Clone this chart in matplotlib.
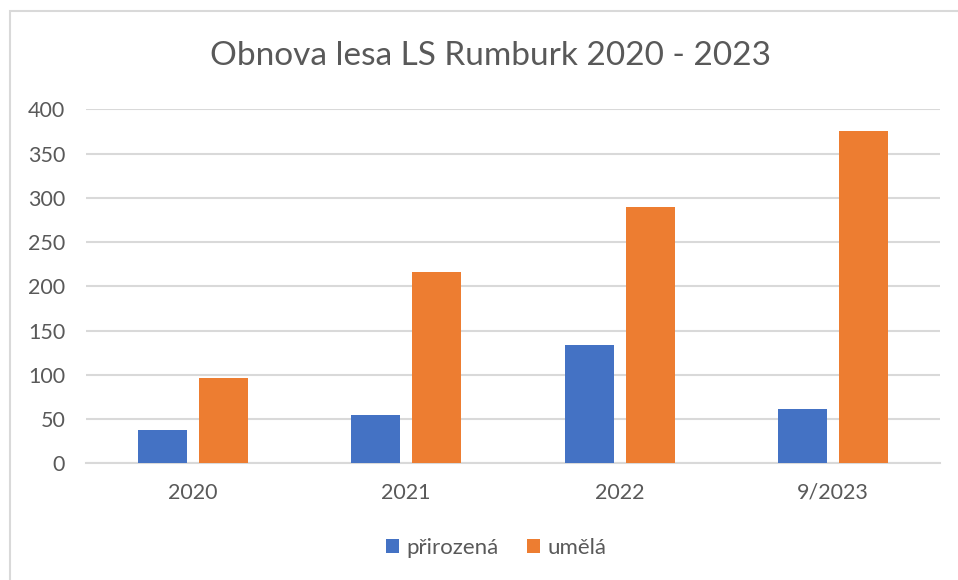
import matplotlib
matplotlib.use("Agg")
import matplotlib.pyplot as plt
import numpy as np
from matplotlib.patches import Rectangle

categories = ["2020", "2021", "2022", "9/2023"]
prirozena = [38, 55, 134, 61]
umela = [96, 216, 290, 375]
series_names = ["přirozená", "umělá"]
yticks = [0, 50, 100, 150, 200, 250, 300, 350, 400]

W, H = 958, 580
fig = plt.figure(figsize=(W / 100, H / 100), dpi=100)
plt.rcParams['font.family'] = ['Lato', 'DejaVu Sans']

grey_txt = "#595959"
grid_c = "#d9d9d9"

# outer chart border
fig.patches.append(Rectangle((10 / W, -0.1), 1.2, 1 - 11 / H + 0.1, transform=fig.transFigure,
                             fill=False, edgecolor="#d9d9d9", linewidth=1.5))

ax = fig.add_axes([86 / W, (H - 463.3) / H, (940 - 86) / W, (463.3 - 109.3) / H])
x = np.arange(len(categories))
off = 0.1417
bw = 0.2295
ax.bar(x - off, prirozena, bw, color="#4472C4", label=series_names[0], zorder=3)
ax.bar(x + off, umela, bw, color="#ED7D31", label=series_names[1], zorder=3)

ax.set_xlim(-0.5, len(categories) - 0.5)
ax.set_ylim(0, 400)
ax.set_yticks(yticks)
ax.set_xticks(x)
ax.set_xticklabels(categories)
ax.yaxis.grid(True, color=grid_c, linewidth=1.5, zorder=0)
ax.set_axisbelow(True)
for s in ["top", "right", "left"]:
    ax.spines[s].set_visible(False)
ax.spines["bottom"].set_color(grid_c)
ax.spines["bottom"].set_linewidth(1.5)
ax.tick_params(axis="both", length=0, colors=grey_txt, labelsize=15.5)
ax.tick_params(axis="x", pad=14)
ax.tick_params(axis="y", pad=15)

fig.text(490 / W, 1 - 56 / H, "Obnova lesa LS Rumburk 2020 - 2023", ha="center", va="center",
         fontsize=24, color=grey_txt)

leg = fig.legend(loc="center", bbox_to_anchor=(496 / W, 1 - 548 / H), ncol=2, frameon=False,
                 fontsize=16, handlelength=0.6, handleheight=0.6, handletextpad=0.3,
                 columnspacing=1.3)
for t in leg.get_texts():
    t.set_color(grey_txt)

fig.savefig("out.png", dpi=100)
